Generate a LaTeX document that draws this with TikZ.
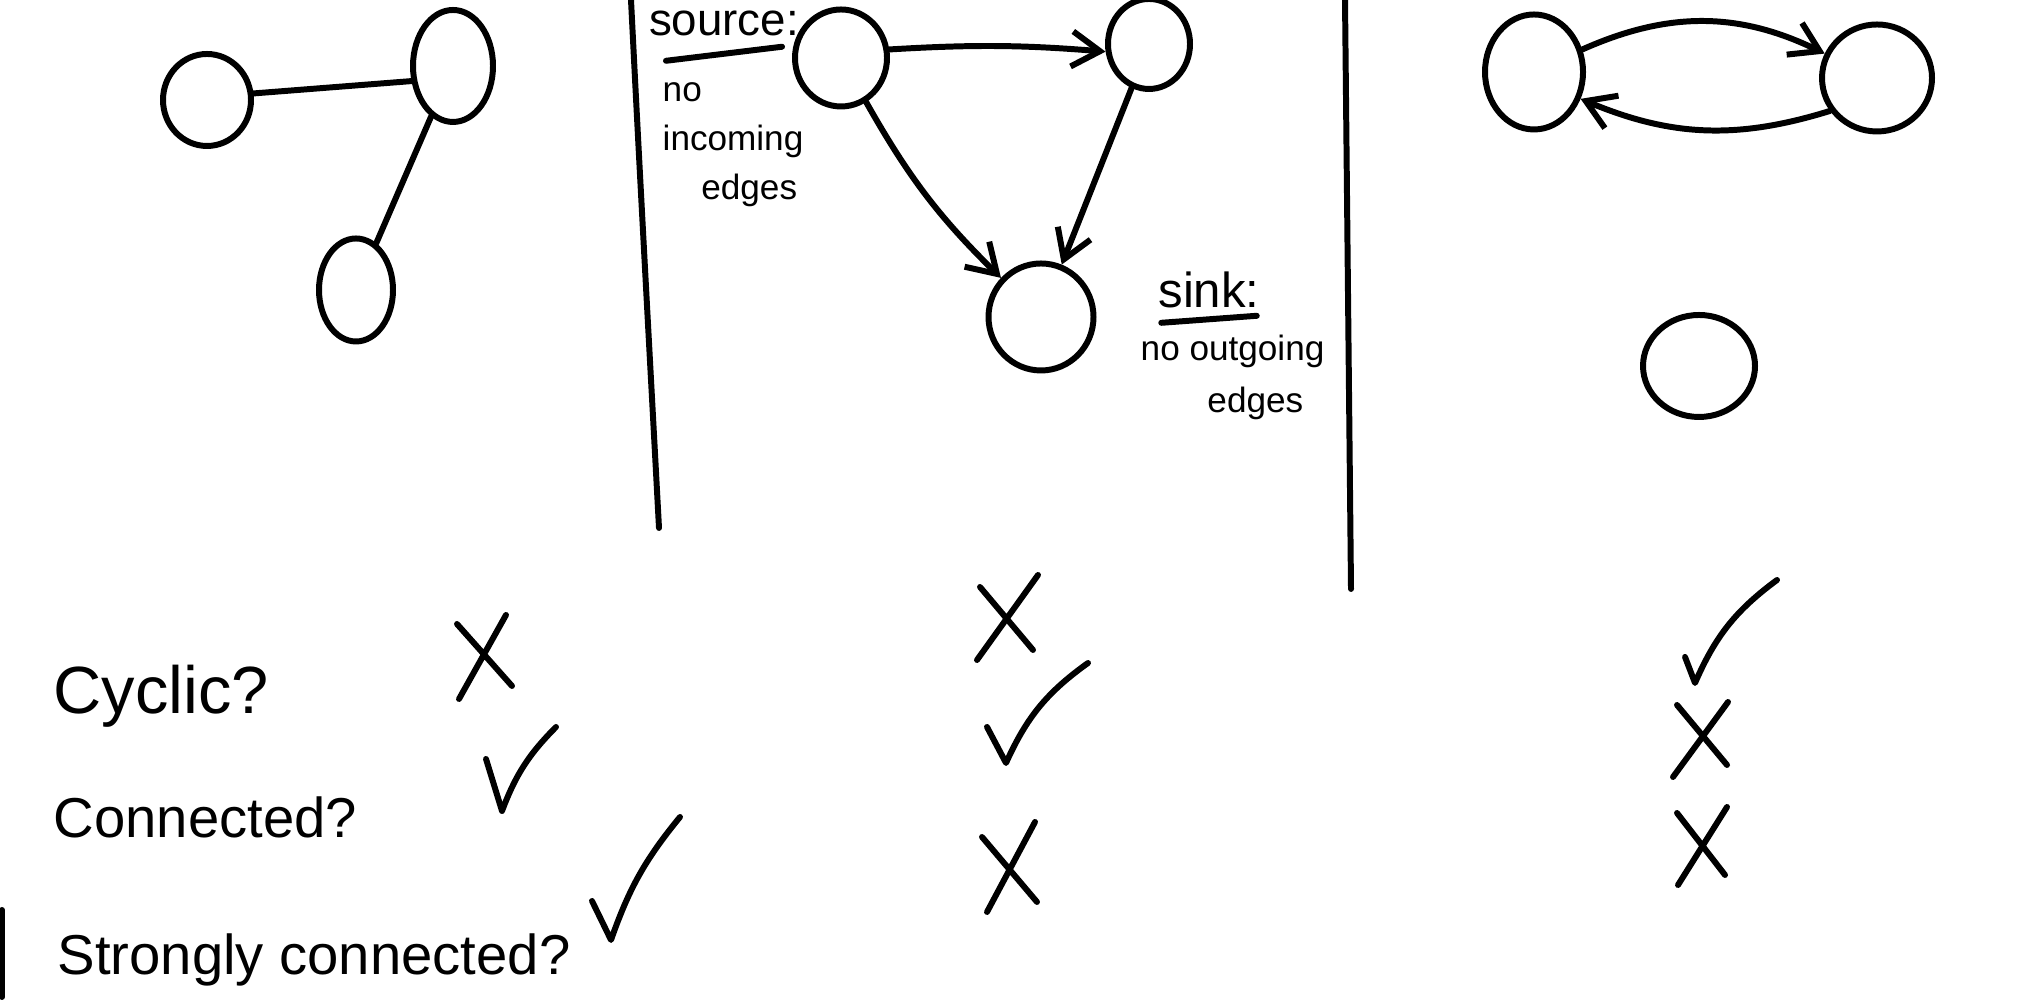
\documentclass[tikz,border=0pt]{standalone}
\usepackage{fontspec}
\setmainfont{Liberation Sans}
\usetikzlibrary{shapes.geometric,arrows.meta,positioning}

\tikzset{
  vtx/.style={draw,ellipse,inner sep=0pt,line width=1.7pt},
  edge/.style={line width=1.7pt,line cap=round},
  arc/.style={edge,-{Straight Barb[length=8pt,width=10pt,line width=1.7pt]}},
  ans/.style={line width=1.7pt,line cap=round,line join=round},
  note/.style={inner sep=0pt,align=left,font=\fontsize{10}{14}\selectfont},
  head/.style={inner sep=1pt,font=\fontsize{13}{15}\selectfont},
  question/.style={inner sep=0pt,anchor=base west,font=\fontsize{16}{18}\selectfont}
}

\begin{document}
\begin{tikzpicture}[line cap=round,line join=round,x=1.0cm,y=1.0cm]
	\useasboundingbox (0,0) rectangle (20.18,10);
	
	% undirected graph
	\node[vtx,minimum width=0.88cm,minimum height=0.92cm] (a) at (2.07,9.00) {};
	\node[vtx,minimum width=0.80cm,minimum height=1.12cm] (b) at (4.53,9.34) {};
	\node[vtx,minimum width=0.74cm,minimum height=1.03cm] (c) at (3.56,7.10) {};
	\draw[edge] (a.8) -- (b.200);
	\draw[edge] (b) -- (c);
	
	% separators
	\draw[edge] (6.31,10) .. controls (6.40,8.2) and (6.50,6.4) .. (6.59,4.72);
	\draw[edge] (13.45,10) -- (13.51,4.11);
	\draw[edge] (0.02,0.90) -- (0.02,0.03);
	
	% source and sink graph
	\node[vtx,minimum width=0.92cm,minimum height=0.97cm] (s) at (8.41,9.42) {};
	\node[vtx,minimum width=0.82cm,minimum height=0.90cm] (t) at (11.49,9.56) {};
	\node[vtx,minimum width=1.05cm,minimum height=1.07cm] (u) at (10.41,6.83) {};
	\draw[arc] (s.10) to[bend left=4] (t.190);
	\draw[arc] (t) -- (u);
	\draw[arc] (s) to[bend right=8] (u);
	
	\node[head] (srclbl) at (7.24,9.77) {source:};
	\draw[edge] ([xshift=6pt,yshift=-6pt]srclbl.south west) -- ([xshift=-6pt,yshift=-2pt]srclbl.south east);
	\node[note,anchor=north west] (srcnote) at (6.62,9.18) {no\\incoming\\\hspace*{11pt}edges};
	
	\node[head,font=\fontsize{14}{16}\selectfont] (sinklbl) at (12.09,7.10) {sink:};
	\draw[edge] ([xshift=2pt,yshift=-3pt]sinklbl.south west) -- ([xshift=-2pt,yshift=-1pt]sinklbl.south east);
	\node[note,anchor=north west,font=\fontsize{10}{15}\selectfont] (sinknote) at (11.40,6.66) {no outgoing\\\hspace*{19pt}edges};
	
	% two-cycle plus a lone vertex
	\node[vtx,minimum width=0.98cm,minimum height=1.15cm] (p) at (15.34,9.28) {};
	\node[vtx,minimum width=1.10cm,minimum height=1.07cm] (q) at (18.77,9.22) {};
	\node[vtx,minimum width=1.12cm,minimum height=1.02cm] (r) at (16.99,6.34) {};
	\draw[arc] (p.25) to[bend left=25] (q.155);
	\draw[arc] (q.215) to[bend left=20] (p.330);
	
	% questions
	\node[question,font=\fontsize{19}{21}\selectfont] (cyc) at (0.53,2.86) {Cyclic?};
	\node[question] (con) at (0.53,1.62) {Connected?};
	\node[question] (scon) at (0.57,0.25) {Strongly connected?};
	
	% answers, first column
	\draw[ans] (4.57,3.76) -- (5.12,3.14) (5.06,3.85) -- (4.59,3.01);
	\draw[ans] (4.86,2.41) -- (5.02,1.89) to[bend left=12] (5.56,2.73);
	\draw[ans] (5.92,0.99) -- (6.11,0.60) to[bend left=10] (6.80,1.83);
	
	% answers, second column
	\draw[ans] (9.80,4.13) -- (10.33,3.50) (10.38,4.25) -- (9.77,3.40);
	\draw[ans] (9.87,2.73) -- (10.06,2.37) to[bend left=15] (10.88,3.37);
	\draw[ans] (9.82,1.63) -- (10.37,0.98) (10.35,1.78) -- (9.87,0.88);
	
	% answers, third column
	\draw[ans] (16.85,3.43) -- (16.95,3.17) to[bend left=15] (17.77,4.20);
	\draw[ans] (16.77,2.95) -- (17.27,2.35) (17.28,2.98) -- (16.73,2.23);
	\draw[ans] (16.77,1.87) -- (17.25,1.25) (17.27,1.93) -- (16.78,1.15);
\end{tikzpicture}
\end{document}
